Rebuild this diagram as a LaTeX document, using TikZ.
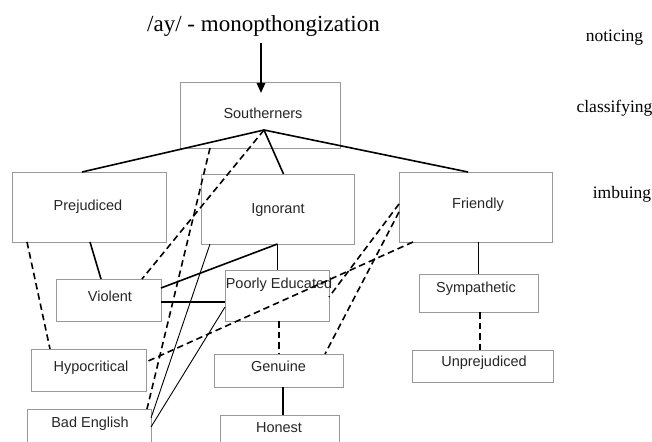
\documentclass[tikz,border=0pt]{standalone}
\usepackage{fontspec}
\setmainfont{Liberation Serif}
\newfontfamily\boxfont{Liberation Sans}
\usetikzlibrary{arrows.meta,calc}
\begin{document}
\begin{tikzpicture}[x=1pt,y=-1pt,
  box/.style={draw=black!40, line width=1pt, inner sep=0pt, outer sep=0pt, fill=none},
  lbl/.style={font=\boxfont\fontsize{14.5}{16}\selectfont, text=black!85, inner sep=0pt, text height=10.4pt, text depth=0pt, anchor=center},
  serif/.style={font=\fontsize{17.5}{20}\selectfont, inner sep=0pt, anchor=base},
  conn/.style={line width=1.6pt, black},
  thinconn/.style={line width=0.9pt, black},
  dconn/.style={line width=1.6pt, black, dash pattern=on 6.5pt off 4pt},
  arr/.style={line width=1.6pt, -{Triangle[length=10pt,width=8.5pt]}}
]
\clip (0,0) rectangle (652,441);
% boxes
\node[box, minimum width=160pt, minimum height=65pt] (sou) at (260,115.5) {};
\node[box, minimum width=154pt, minimum height=70pt] (prej) at (89,207) {};
\node[box, minimum width=153pt, minimum height=70pt] (ign) at (277.5,209) {};
\node[box, minimum width=153pt, minimum height=70pt] (fri) at (475.5,207) {};
\node[box, minimum width=105pt, minimum height=42pt] (vio) at (108.5,300) {};
\node[box, minimum width=104pt, minimum height=51pt] (pe) at (277,295.5) {};
\node[box, minimum width=119pt, minimum height=38pt] (sym) at (478.5,293) {};
\node[box, minimum width=115pt, minimum height=42pt] (hyp) at (88.5,370) {};
\node[box, minimum width=129pt, minimum height=33pt] (gen) at (278.5,370.5) {};
\node[box, minimum width=141pt, minimum height=32pt] (unp) at (482.5,366) {};
\node[box, minimum width=124pt, minimum height=40pt] (bad) at (89,429) {};
\node[box, minimum width=119pt, minimum height=40pt] (hon) at (279.5,435) {};
% box texts
\node[lbl] (tsou) at (263,113) {Southerners};
\node[lbl] (tprej) at (88,205) {Prejudiced};
\node[lbl] (tign) at (278,208) {Ignorant};
\node[lbl] (tfri) at (478,203) {Friendly};
\node[lbl] (tvio) at (110,296) {Violent};
\node[lbl] (tpe) at (279,283) {Poorly Educated};
\node[lbl] (tsym) at (476,287) {Sympathetic};
\node[lbl] (thyp) at (91,366) {Hypocritical};
\node[lbl] (tgen) at (278.5,366) {Genuine};
\node[lbl] (tunp) at (484,361) {Unprejudiced};
\node[lbl] (tbad) at (90,422) {Bad English};
\node[lbl] (thon) at (279,427) {Honest};
% serif labels
\node[serif, font=\fontsize{23}{26}\selectfont] (title) at (263.5,32) {/ay/ - monopthongization};
\node[serif] (noticing) at (614.5,42) {noticing};
\node[serif] (classifying) at (614.5,112) {classifying};
\node[serif] (imbuing) at (622,198) {imbuing};
% helper coordinates
\coordinate (astart) at ($(title.base)+(-2.5,11)$);
\coordinate (aend) at ([yshift=-10pt]sou.north);
\coordinate (apex) at ([xshift=4pt,yshift=18pt]sou.south);
\coordinate (vioE) at ([yshift=-2pt]vio.east);
\coordinate (symS) at ([xshift=1.5pt]sym.south);
\coordinate (peS) at ([xshift=2pt]pe.south);
\coordinate (genS) at ([xshift=4.5pt]gen.south);
% arrow
\draw[arr] (astart) -- (astart |- aend);
% apex
\draw[conn] ([xshift=-7pt]prej.north) -- (apex) -- ([xshift=-7.5pt]fri.north);
\draw[conn] (apex) -- ([xshift=6pt]ign.north);
\draw[dconn] (apex) -- ([xshift=33.5pt]vio.north);
\draw[dconn] ([xshift=-50pt]sou.south) -- ([xshift=58pt]bad.north);
% prejudiced
\draw[conn] ([xshift=1pt]prej.south) -- ([xshift=-7.5pt]vio.north);
\draw[dconn] ([xshift=-62pt]prej.south) -- ([xshift=-38.5pt]hyp.north);
% ignorant
\draw[conn] (ign.south) -- (ign.south |- pe.north);
\draw[conn] (ign.south) -- ([yshift=12pt]vio.east);
\draw[conn] (vioE) -- (vioE -| pe.west);
\draw[thinconn] ([xshift=-67.5pt]ign.south) -- ([yshift=11pt]bad.east);
\draw[thinconn] ([yshift=-11.5pt]pe.west) -- ([yshift=2pt]bad.east);
% friendly
\draw[dconn] ([yshift=3pt]fri.west) -- ([yshift=-1.5pt]pe.east);
\draw[dconn] ([yshift=-5pt]fri.west) -- ([xshift=46.5pt]gen.north);
\draw[dconn] ([xshift=-62.5pt]fri.south) -- ([yshift=8pt]hyp.east);
\draw[conn] (sym.north |- fri.south) -- (sym.north);
\draw[dconn] (symS) -- (symS |- unp.north);
% lower
\draw[dconn] (peS) -- (peS |- gen.north);
\draw[conn] (genS) -- (genS |- hon.north);
\end{tikzpicture}
\end{document}
